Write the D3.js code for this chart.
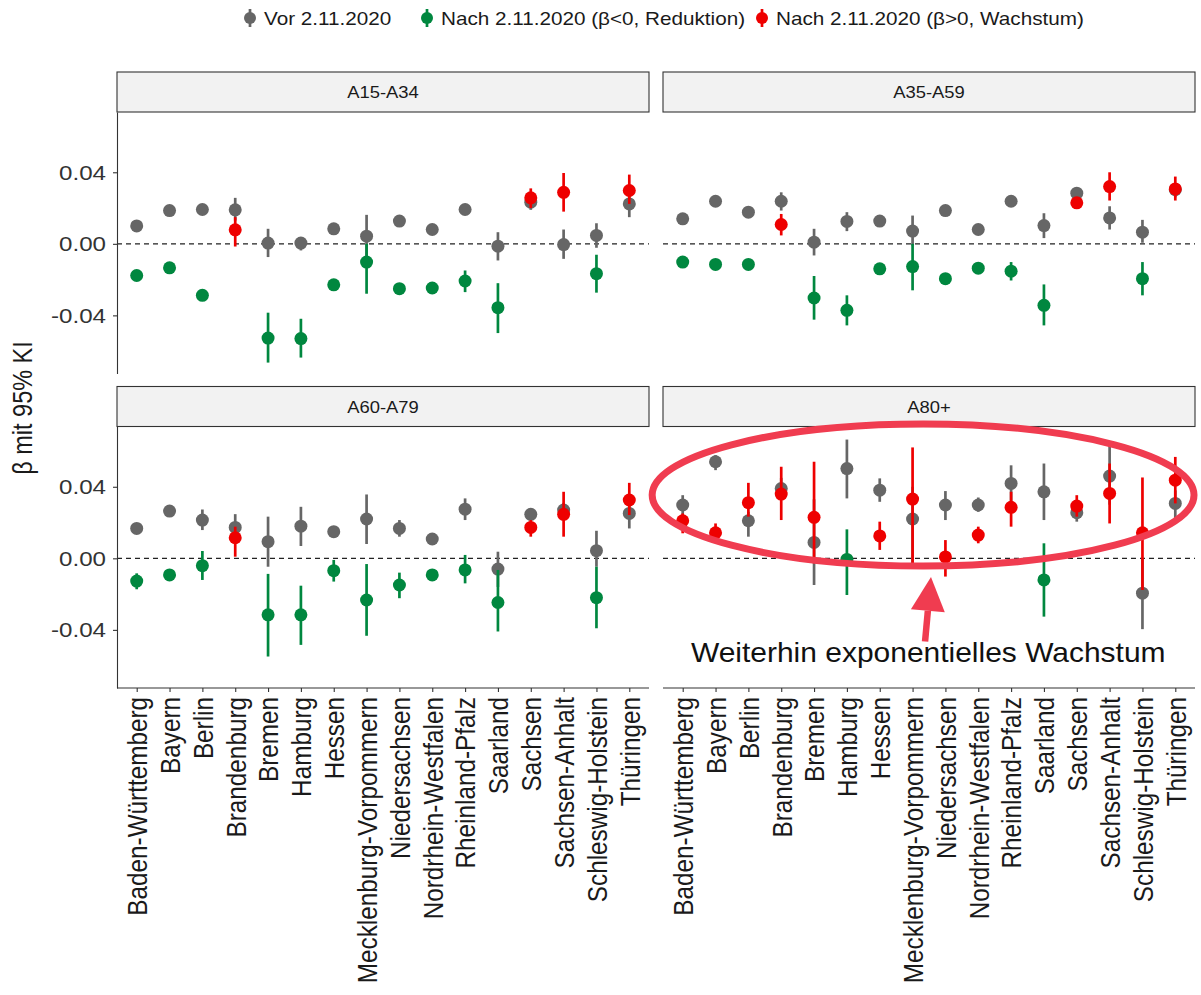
<!DOCTYPE html>
<html>
<head>
<meta charset="utf-8">
<script src="https://cdn.jsdelivr.net/npm/d3@7"></script>
<style>
  html, body { margin: 0; padding: 0; background: #fff; }
  text { font-family: "Liberation Sans", Arial, Helvetica, sans-serif; }
</style>
</head>
<body>
<svg id="chart" width="1201" height="995"></svg>
<script>
// ---------- data ----------
const states = ["Baden-Württemberg","Bayern","Berlin","Brandenburg","Bremen","Hamburg","Hessen",
  "Mecklenburg-Vorpommern","Niedersachsen","Nordrhein-Westfalen","Rheinland-Pfalz","Saarland",
  "Sachsen","Sachsen-Anhalt","Schleswig-Holstein","Thüringen"];
const ageGroups = ["A15-A34","A35-A59","A60-A79","A80+"];
const legendLabels = ["Vor 2.11.2020","Nach 2.11.2020 (β<0, Reduktion)","Nach 2.11.2020 (β>0, Wachstum)"];
const yTicks = [-0.04, 0, 0.04];
const yTitle = "β mit 95% KI";
const annotationText = "Weiterhin exponentielles Wachstum";

// A15-A34
const a15BeforeMean = [0.010,0.0186,0.0192,0.019,0.0004,0.0004,0.0084,0.0043,0.0127,0.008,0.0192,-0.0013,0.0233,-0.0004,0.0047,0.0223];
const a15BeforeLo   = [0.008,0.0166,0.0172,0.013,-0.0074,-0.0037,0.0064,-0.007,0.0107,0.006,0.0172,-0.0093,0.019,-0.0084,-0.0022,0.0149];
const a15BeforeHi   = [0.012,0.0206,0.0212,0.0257,0.0084,0.0037,0.0104,0.0162,0.0147,0.010,0.0212,0.0065,0.027,0.008,0.0115,0.0288];
const a15AfterMean  = [-0.0177,-0.0134,-0.0288,0.0078,-0.0527,-0.053,-0.0229,-0.0102,-0.0251,-0.0247,-0.0208,-0.0357,0.0257,0.0288,-0.0167,0.0298];
const a15AfterLo    = [-0.0197,-0.0154,-0.0318,-0.0015,-0.0664,-0.0636,-0.0249,-0.0279,-0.0271,-0.0267,-0.027,-0.0499,0.020,0.018,-0.0273,0.0223];
const a15AfterHi    = [-0.0157,-0.0114,-0.0258,0.0149,-0.0385,-0.0419,-0.0209,0.0,-0.0231,-0.0227,-0.0149,-0.022,0.031,0.0396,-0.0061,0.0387];
// A35-A59
const a35BeforeMean = [0.014,0.0238,0.0177,0.0238,0.0009,0.0125,0.0127,0.0071,0.0186,0.008,0.0238,0.0102,0.0283,0.0145,0.0065,0.0303];
const a35BeforeLo   = [0.012,0.0218,0.0157,0.0186,-0.0065,0.0071,0.0107,-0.001,0.0166,0.006,0.0218,0.0032,0.0263,0.008,0.0006,0.026];
const a35BeforeHi   = [0.016,0.0258,0.0197,0.0288,0.0084,0.0177,0.0147,0.0158,0.0206,0.010,0.0258,0.0171,0.0303,0.021,0.0134,0.034];
const a35AfterMean  = [-0.0102,-0.0115,-0.0115,0.0108,-0.0303,-0.0372,-0.014,-0.0127,-0.0195,-0.0136,-0.0153,-0.0344,0.0229,0.032,-0.0195,0.0307];
const a35AfterLo    = [-0.0122,-0.0135,-0.0135,0.0047,-0.0424,-0.0456,-0.016,-0.026,-0.0215,-0.0156,-0.0205,-0.0456,0.0209,0.0242,-0.0288,0.0242];
const a35AfterHi    = [-0.0082,-0.0095,-0.0095,0.0167,-0.018,-0.0288,-0.012,0.0,-0.0175,-0.0116,-0.0102,-0.0227,0.0249,0.040,-0.0102,0.0376];
// A60-A79
const a60BeforeMean = [0.0167,0.0264,0.0214,0.0173,0.0093,0.018,0.0149,0.022,0.0167,0.0108,0.0275,-0.006,0.0246,0.027,0.0043,0.0251];
const a60BeforeLo   = [0.0147,0.0244,0.0158,0.0121,-0.0047,0.0069,0.0129,0.008,0.0121,0.0088,0.0214,-0.016,0.0216,0.022,-0.0047,0.0167];
const a60BeforeHi   = [0.0187,0.0284,0.0273,0.0247,0.0233,0.0288,0.0169,0.0357,0.0214,0.0128,0.0335,0.0037,0.0276,0.031,0.0154,0.0298];
const a60AfterMean  = [-0.0127,-0.0093,-0.0041,0.0115,-0.0316,-0.0316,-0.0069,-0.0233,-0.0149,-0.0093,-0.0065,-0.0247,0.0173,0.0246,-0.022,0.0326];
const a60AfterLo    = [-0.0173,-0.0113,-0.0121,0.0009,-0.0549,-0.0484,-0.013,-0.0433,-0.0223,-0.0113,-0.014,-0.0409,0.0121,0.0121,-0.0391,0.0242];
const a60AfterHi    = [-0.0084,-0.0073,0.0041,0.0177,-0.0087,-0.0153,-0.0009,-0.0032,-0.008,-0.0073,0.0019,-0.0065,0.0214,0.0372,-0.0047,0.0422];
// A80+
const a80BeforeMean = [0.0298,0.054,0.021,0.039,0.0089,0.0502,0.0381,0.022,0.0298,0.0298,0.0419,0.0372,0.0255,0.046,-0.0195,0.0307];
const a80BeforeLo   = [0.0242,0.0493,0.0121,0.033,-0.0149,0.0335,0.0316,-0.0028,0.0214,0.026,0.0316,0.0214,0.0205,0.03,-0.0396,0.0214];
const a80BeforeHi   = [0.0353,0.0577,0.026,0.045,0.033,0.0664,0.0447,0.04,0.0376,0.034,0.052,0.053,0.0298,0.0633,0.0,0.038];
const a80AfterMean  = [0.021,0.0143,0.0311,0.0359,0.0229,-0.0006,0.0125,0.0331,0.0008,0.013,0.0285,-0.0121,0.0292,0.0363,0.0143,0.0437];
const a80AfterLo    = [0.014,0.0102,0.0233,0.0214,-0.0028,-0.0205,0.0047,-0.003,-0.0102,0.0084,0.0177,-0.0326,0.0233,0.0195,-0.0177,0.0307];
const a80AfterHi    = [0.0251,0.0195,0.0422,0.0512,0.054,0.0162,0.0205,0.062,0.0102,0.0177,0.0372,0.0084,0.0353,0.053,0.0452,0.0567];

const panelData = [
  {before:[a15BeforeMean,a15BeforeLo,a15BeforeHi], after:[a15AfterMean,a15AfterLo,a15AfterHi]},
  {before:[a35BeforeMean,a35BeforeLo,a35BeforeHi], after:[a35AfterMean,a35AfterLo,a35AfterHi]},
  {before:[a60BeforeMean,a60BeforeLo,a60BeforeHi], after:[a60AfterMean,a60AfterLo,a60AfterHi]},
  {before:[a80BeforeMean,a80BeforeLo,a80BeforeHi], after:[a80AfterMean,a80AfterLo,a80AfterHi]}
];

// ---------- styling ----------
const colGray = "#666666", colGreen = "#00873f", colRed = "#ee0000", colAnn = "#f03c50";
const SX = 1.15; // horizontal text stretch
const svg = d3.select("#chart");
svg.append("rect").attr("width",1201).attr("height",995).attr("fill","#fff");

const panelW = 532, panelH = 261.5, stripH = 40;
const colX = [117, 663];
const rowY = [112, 426.5];
const yDomain = [-0.0725, 0.0737];

function hText(g, x, y, str, size, anchor, color) {
  return g.append("text")
    .attr("transform", `translate(${x},${y}) scale(${SX},1)`)
    .attr("text-anchor", anchor).attr("font-size", size).attr("fill", color || "#1a1a1a")
    .text(str);
}

const fmt = d => d3.format(".2f")(d).replace("\u2212","-");

ageGroups.forEach((grp, p) => {
  const r = Math.floor(p/2), c = p % 2;
  const x0 = colX[c], y0 = rowY[r];
  const x = d3.scalePoint().domain(states).range([x0, x0+panelW]).padding(0.6);
  const y = d3.scaleLinear().domain(yDomain).range([y0+panelH, y0]);
  const g = svg.append("g");

  // strip
  g.append("rect").attr("x", x0).attr("y", y0-stripH).attr("width", panelW).attr("height", stripH)
    .attr("fill", "#f2f2f2").attr("stroke", "#333").attr("stroke-width", 1.1);
  hText(g, x0+panelW/2, y0-stripH/2+6, grp, 16, "middle");

  // zero line
  g.append("line").attr("x1", x0).attr("x2", x0+panelW).attr("y1", y(0)).attr("y2", y(0))
    .attr("stroke", "#222").attr("stroke-width", 1.2).attr("stroke-dasharray", "5,4");

  // y axis on left column
  if (c === 0) {
    const ax = g.append("g").attr("transform", `translate(${x0},0)`)
      .call(d3.axisLeft(y).tickValues(yTicks).tickFormat(fmt).tickSize(4).tickSizeOuter(0));
    ax.select(".domain").attr("stroke", "#333").attr("stroke-width", 1.1);
    ax.selectAll(".tick line").attr("stroke", "#333").attr("stroke-width", 1.1);
    ax.selectAll(".tick text").attr("font-size", 21).attr("fill", "#333")
      .attr("font-family", "Liberation Sans, Arial, sans-serif")
      .attr("x", -11/SX).attr("transform", `scale(${SX},1)`);
  }
  // x axis on bottom row
  if (r === 1) {
    const ax = g.append("g").attr("transform", `translate(0,${y0+panelH})`)
      .call(d3.axisBottom(x).tickSize(4).tickSizeOuter(0));
    ax.select(".domain").attr("stroke", "#333").attr("stroke-width", 1.1)
      .attr("d", `M${x0},0H${x0+panelW}`);
    ax.selectAll(".tick line").attr("stroke", "#333").attr("stroke-width", 1.1);
    ax.selectAll(".tick text").attr("font-size", 24.3).attr("fill", "#1a1a1a")
      .attr("font-family", "Liberation Sans, Arial, sans-serif")
      .attr("x", 0).attr("y", 0).attr("dy", "0.35em")
      .attr("transform", `translate(0,9) scale(${SX},1) rotate(-90)`)
      .style("text-anchor", "end");
  }

  const d = panelData[p];
  const before = states.map((s,i) => ({s, m:d.before[0][i], lo:d.before[1][i], hi:d.before[2][i], col:colGray}));
  const after = states.map((s,i) => ({s, m:d.after[0][i], lo:d.after[1][i], hi:d.after[2][i], col: d.after[0][i] < 0 ? colGreen : colRed}));
  [before, after].forEach(set => {
    g.append("g").selectAll("line").data(set).join("line")
      .attr("x1", e => x(e.s)).attr("x2", e => x(e.s))
      .attr("y1", e => y(e.lo)).attr("y2", e => y(e.hi))
      .attr("stroke", e => e.col).attr("stroke-width", 2.7);
    g.append("g").selectAll("circle").data(set).join("circle")
      .attr("cx", e => x(e.s)).attr("cy", e => y(e.m)).attr("r", 6.5)
      .attr("fill", e => e.col);
  });

  // annotation in A80+ panel
  if (grp === "A80+") {
    const xi = d3.scaleLinear().domain([0, states.length-1]).range([x(states[0]), x(states[states.length-1])]);
    const cx = xi(7.32), rx = xi(7.32+8.25) - cx;
    const cy = y(0.0354), ry = y(0) - y(0.0397);
    g.append("ellipse").attr("cx", cx).attr("cy", cy).attr("rx", rx).attr("ry", ry)
      .attr("fill", "none").attr("stroke", colAnn).attr("stroke-width", 7);
    const tip = [xi(7.56), y(-0.0104)], tail = [xi(7.38), y(-0.0465)];
    const ang = Math.atan2(tip[1]-tail[1], tip[0]-tail[0]);
    const hl = 34, hw = 17;
    const bx = tip[0] - hl*Math.cos(ang), by = tip[1] - hl*Math.sin(ang);
    const px = -Math.sin(ang), py = Math.cos(ang);
    g.append("line").attr("x1", tail[0]).attr("y1", tail[1]).attr("x2", bx).attr("y2", by)
      .attr("stroke", colAnn).attr("stroke-width", 6.5);
    g.append("polygon").attr("points",
      [[tip[0],tip[1]],[bx+px*hw,by+py*hw],[bx-px*hw,by-py*hw]].map(q=>q.join(",")).join(" "))
      .attr("fill", colAnn);
    g.append("text")
      .attr("transform", `translate(${xi(0.25)},${y(-0.0578)}) scale(1.11,1)`)
      .attr("font-size", 27).attr("fill", "#111").text(annotationText);
  }
});

// y title
svg.append("text")
  .attr("transform", `translate(32,408) scale(${SX},1) rotate(-90)`)
  .attr("text-anchor", "middle").attr("font-size", 23.5).attr("fill", "#1a1a1a").text(yTitle);

// legend
const legendCols = [colGray, colGreen, colRed];
const legendKeyX = [250, 427, 762];
const ly = 18;
legendLabels.forEach((lab, i) => {
  const lg = svg.append("g");
  lg.append("line").attr("x1", legendKeyX[i]).attr("x2", legendKeyX[i]).attr("y1", ly-9).attr("y2", ly+9)
    .attr("stroke", legendCols[i]).attr("stroke-width", 2.7);
  lg.append("circle").attr("cx", legendKeyX[i]).attr("cy", ly).attr("r", 6).attr("fill", legendCols[i]);
  hText(lg, legendKeyX[i]+14, ly+6.5, lab, 18, "start", "#1a1a1a");
});
</script>
</body>
</html>
